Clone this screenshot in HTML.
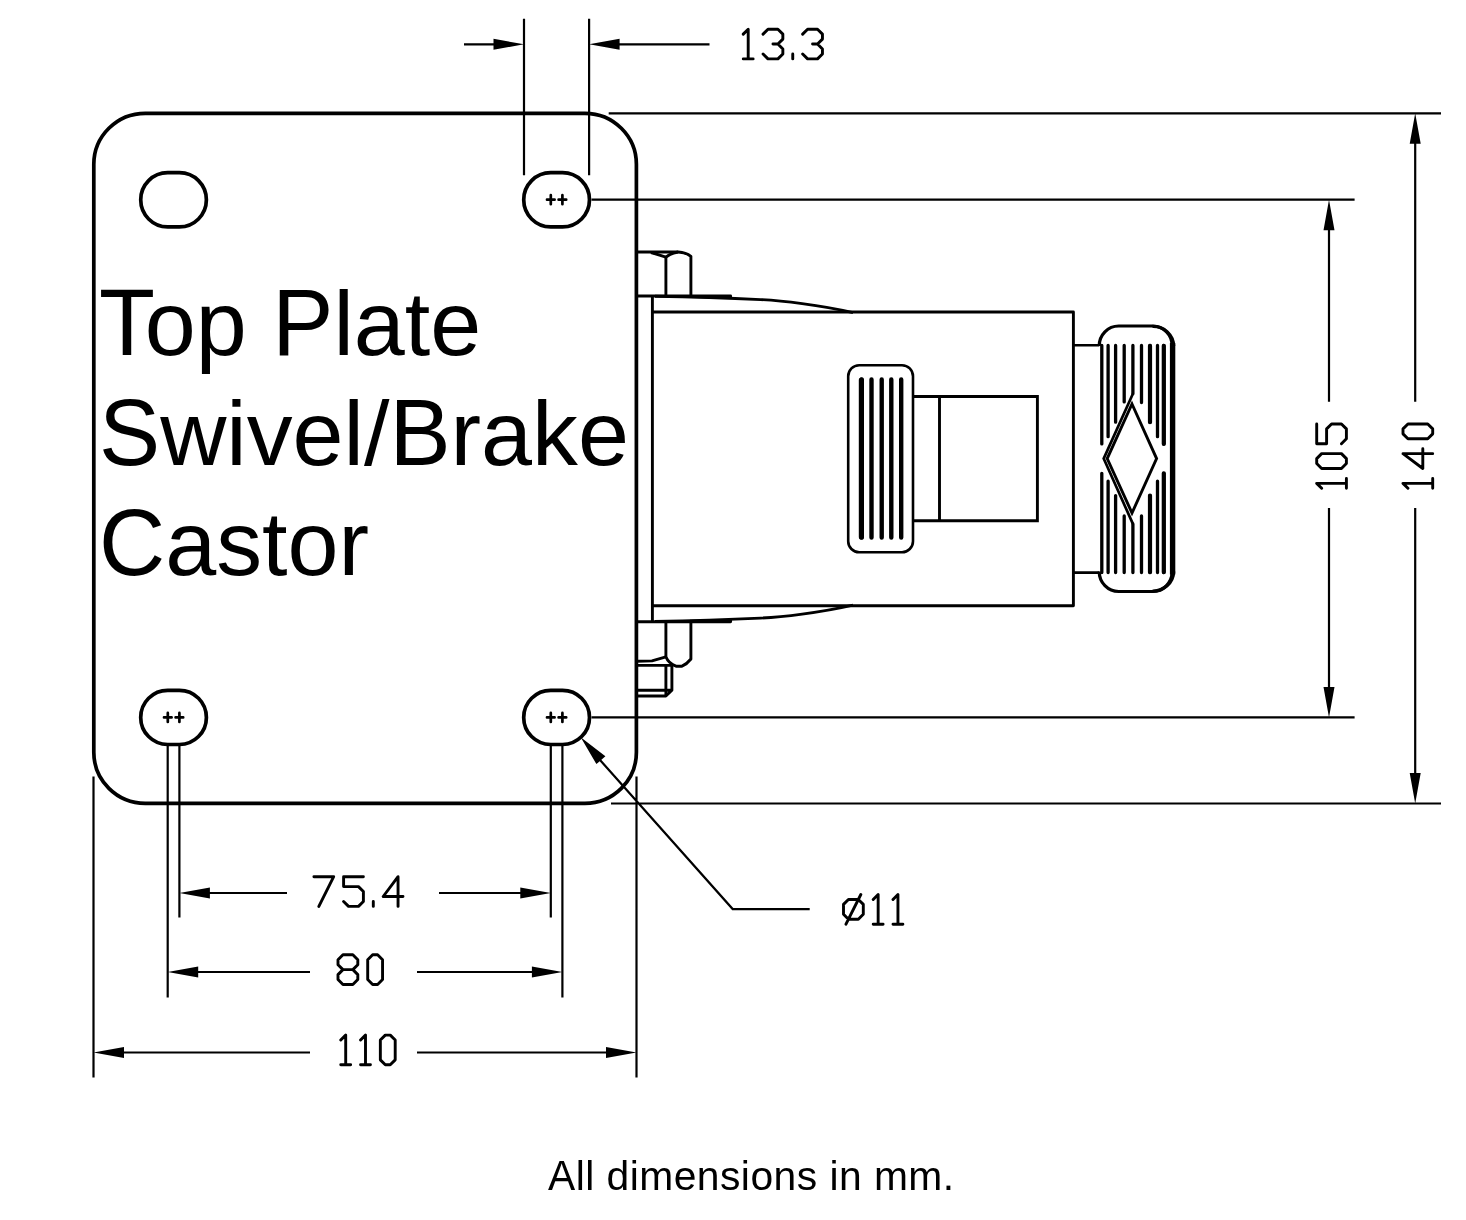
<!DOCTYPE html>
<html><head><meta charset="utf-8"><title>Top Plate Swivel/Brake Castor</title>
<style>
html,body{margin:0;padding:0;background:#fff;}
body{width:1466px;height:1220px;overflow:hidden;position:relative;font-family:"Liberation Sans",sans-serif;}
svg{position:absolute;left:0;top:0;will-change:transform;}
.t{font-family:"Liberation Sans",sans-serif;fill:#000;}
</style></head><body>
<svg width="1466" height="1220" viewBox="0 0 1466 1220">
<rect width="1466" height="1220" fill="#fff"/>
<!-- thin dimension/extension lines -->
<path d="M524,18.7 L524,175.3 M589.1,18.7 L589.1,175.3 M464,44.3 L500,44.3 M615,44.3 L709.5,44.3 M608.7,113.3 L1441,113.3 M591.5,199.7 L1354.6,199.7 M591.5,717.4 L1354.6,717.4 M611,803.5 L1441,803.5 M1329,225 L1329,401.7 M1329,508 L1329,692 M1415.2,138 L1415.2,401.7 M1415.2,508 L1415.2,778 M179.4,746 L179.4,917.5 M550.8,746 L550.8,917.5 M167.7,746 L167.7,997.5 M562.4,746 L562.4,997.5 M93.5,776.5 L93.5,1077.5 M636.5,776.5 L636.5,1077.5 M204,893 L287,893 M439,893 L526,893 M192,972 L310,972 M417,972 L538,972 M118,1052.5 L310,1052.5 M417,1052.5 L612,1052.5 M600,760 L732.7,909.1 L809.7,909.1" fill="none" stroke="#000" stroke-width="2.2"/>
<path d="M524.00,44.30 L493.50,49.80 L493.50,38.80 Z M589.10,44.30 L619.60,38.80 L619.60,49.80 Z M179.40,893.00 L209.90,887.50 L209.90,898.50 Z M550.80,893.00 L520.30,898.50 L520.30,887.50 Z M167.70,972.00 L198.20,966.50 L198.20,977.50 Z M562.40,972.00 L531.90,977.50 L531.90,966.50 Z M93.50,1052.50 L124.00,1047.00 L124.00,1058.00 Z M636.50,1052.50 L606.00,1058.00 L606.00,1047.00 Z M1329.00,199.70 L1334.50,230.20 L1323.50,230.20 Z M1329.00,717.40 L1323.50,686.90 L1334.50,686.90 Z M1415.20,113.30 L1420.70,143.80 L1409.70,143.80 Z M1415.20,803.50 L1409.70,773.00 L1420.70,773.00 Z M580.70,737.30 L605.40,756.17 L596.42,764.12 Z" fill="#000" stroke="none"/>
<!-- plate -->
<rect x="93.8" y="113.3" width="542.6" height="690" rx="51.5" ry="51" fill="none" stroke="#000" stroke-width="3.7"/>
<path d="M167.7,172.70000000000002 L179.4,172.70000000000002 A27.0,27.1 0 0 1 179.4,226.9 L167.7,226.9 A27.0,27.1 0 0 1 167.7,172.70000000000002 Z M550.7,172.70000000000002 L562.5,172.70000000000002 A27.0,27.1 0 0 1 562.5,226.9 L550.7,226.9 A27.0,27.1 0 0 1 550.7,172.70000000000002 Z M167.7,690.3 L179.4,690.3 A27.0,27.1 0 0 1 179.4,744.5 L167.7,744.5 A27.0,27.1 0 0 1 167.7,690.3 Z M550.7,690.3 L562.5,690.3 A27.0,27.1 0 0 1 562.5,744.5 L550.7,744.5 A27.0,27.1 0 0 1 550.7,690.3 Z" fill="none" stroke="#000" stroke-width="3.7"/>
<path d="M547.0,199.7 L554.5999999999999,199.7 M550.8,195.2 L550.8,204.2 M558.6,199.7 L566.1999999999999,199.7 M562.4,195.2 L562.4,204.2 M164.0,717.4 L171.60000000000002,717.4 M167.8,712.9 L167.8,721.9 M175.6,717.4 L183.20000000000002,717.4 M179.4,712.9 L179.4,721.9 M547.0,717.4 L554.5999999999999,717.4 M550.8,712.9 L550.8,721.9 M558.6,717.4 L566.1999999999999,717.4 M562.4,712.9 L562.4,721.9" fill="none" stroke="#000" stroke-width="2.7" stroke-linecap="round"/>
<!-- castor body -->
<g fill="none" stroke="#000" stroke-width="2.9" stroke-linejoin="round">
<path d="M652.4,296 L652.4,621.5"/>
<path d="M652.4,312 L1073.4,312 L1073.4,605.7 L652.4,605.7"/>
<!-- top bolt head -->
<path d="M636.5,252 L678.2,252 Q686,252.5 690.9,256.3 L690.9,296"/>
<path d="M651,252.5 L665.9,257.1 Q671,253 678.2,252"/>
<path d="M665.9,257.1 L665.9,296"/>
<path d="M636.5,296 L730.6,296 L730.6,298.6"/>
<path d="M655,296.3 C700,297 740,298.6 760.6,299.6 S820,305 853,312.6"/>
<!-- bottom nut -->
<path d="M636.5,621.7 L730.6,621.7 L730.6,619.2"/>
<path d="M655,621.4 C700,620.7 740,619.1 760.6,618.1 S820,612.7 853,605.1"/>
<path d="M665.9,621.6 L665.9,656.8 Q668.5,663.5 676,666.2 L682,666.2 Q687,664 690.9,659 L690.9,621.6"/>
<path d="M636.5,661.3 L652,660.9 L665.9,656.8"/>
<path d="M636.5,665.4 L671.9,665.4"/>
<path d="M665.9,665.4 L665.9,696 M671.9,665.4 L671.9,690.2 L665.9,696 L636.5,696 M636.5,690.2 L671.9,690.2"/>
</g>
<path d="M690,296.6 L730.6,297.6 M690,621.1 L730.6,620.2" fill="none" stroke="#000" stroke-width="2.6"/>
<!-- small pedal -->
<rect x="848.2" y="365.2" width="64.8" height="187" rx="11" ry="11" fill="none" stroke="#000" stroke-width="2.6"/>
<path d="M861.6,379.5 L861.6,537.5 M871.5,379.5 L871.5,537.5 M881.7,379.5 L881.7,537.5 M891.3,379.5 L891.3,537.5 M901.2,379.5 L901.2,537.5" fill="none" stroke="#000" stroke-width="4.4" stroke-linecap="round"/>
<path d="M861.4,380 L861.4,537" fill="none" stroke="#000" stroke-width="5.2" stroke-linecap="round"/>
<path d="M913,396.5 L1037.4,396.5 L1037.4,520.8 L913,520.8 M939.5,396.5 L939.5,520.8" fill="none" stroke="#000" stroke-width="2.9"/>
<!-- big pedal -->
<path d="M1073.4,345.2 L1099.3,345.2 M1073.4,572.6 L1099.3,572.6" fill="none" stroke="#000" stroke-width="2.6"/>
<path d="M1099.2,346 A19.5,20 0 0 1 1118.7,326 L1152.5,326 A19.5,19.5 0 0 1 1172,345.5 L1172,572 A19.5,19.5 0 0 1 1152.5,591.5 L1118.7,591.5 A19.5,20 0 0 1 1099.2,571.5" fill="none" stroke="#000" stroke-width="3.2"/>
<path d="M1172.6,343 L1172.6,574.5" fill="none" stroke="#000" stroke-width="5.4"/>
<path d="M1152.5,326.4 A20.5,20 0 0 1 1173.6,346 M1173.6,571.5 A20.5,20 0 0 1 1152.5,591.1" fill="none" stroke="#000" stroke-width="3.4"/>
<path d="M1101.8,345.5 L1101.8,443.9 M1101.8,473.3 L1101.8,572.5 M1108.1,345.5 L1108.1,436.7 M1108.1,481.2 L1108.1,572.5 M1115.6,345.5 L1115.6,422.2 M1115.6,495.6 L1115.6,572.5 M1124.2,345.5 L1124.2,401.9 M1124.2,515.9 L1124.2,572.5 M1132.9,345.5 L1132.9,393.7 M1132.9,523.9 L1132.9,572.5 M1141.5,345.5 L1141.5,402.6 M1141.5,515.9 L1141.5,572.5 M1150.0,345.5 L1150.0,422.2 M1150.0,495.6 L1150.0,572.5 M1157.5,345.5 L1157.5,436.7 M1157.5,481.2 L1157.5,572.5 M1163.8,345.5 L1163.8,443.9 M1163.8,473.3 L1163.8,572.5" fill="none" stroke="#000" stroke-width="3.3" stroke-linecap="round"/>
<path d="M1150.0,345.8 L1150.0,422.2 M1150.0,495.6 L1150.0,572.2 M1163.8,345.8 L1163.8,443.9 M1163.8,473.3 L1163.8,572.2" fill="none" stroke="#000" stroke-width="4.2" stroke-linecap="round"/>
<path d="M1132,404 L1156.6,458.6 L1132,513 L1107.2,458.6 Z" fill="none" stroke="#000" stroke-width="2.9" stroke-linejoin="miter"/>
<path d="M1132.9,393.7 L1103.7,458.6 L1132.9,523.9" fill="none" stroke="#000" stroke-width="2.7" stroke-linejoin="miter"/>
<!-- CAD stroke text -->
<path d="M743.25,34.15 L748.20,29.20 L748.20,58.90 M743.25,58.90 L753.15,58.90 M763.05,34.15 L768.00,29.20 L777.90,29.20 L782.85,34.15 L782.85,39.10 L777.90,44.05 L772.95,44.05 M777.90,44.05 L782.85,49.00 L782.85,53.95 L777.90,58.90 L768.00,58.90 L763.05,53.95 M792.75,58.90 L792.75,53.95 M802.65,34.15 L807.60,29.20 L817.50,29.20 L822.45,34.15 L822.45,39.10 L817.50,44.05 L812.55,44.05 M817.50,44.05 L822.45,49.00 L822.45,53.95 L817.50,58.90 L807.60,58.90 L802.65,53.95 M313.90,876.70 L333.70,876.70 L318.85,906.40 M363.40,876.70 L343.60,876.70 L343.60,886.60 L358.45,886.60 L363.40,891.55 L363.40,901.45 L358.45,906.40 L348.55,906.40 L343.60,901.45 M373.30,906.40 L373.30,901.45 M398.05,906.40 L398.05,876.70 L383.20,896.50 L403.00,896.50 M342.95,984.50 L338.00,979.55 L338.00,974.60 L342.95,969.65 L338.00,964.70 L338.00,959.75 L342.95,954.80 L352.85,954.80 L357.80,959.75 L357.80,964.70 L352.85,969.65 L357.80,974.60 L357.80,979.55 L352.85,984.50 Z M342.95,969.65 L352.85,969.65 M372.65,984.50 L367.70,979.55 L367.70,959.75 L372.65,954.80 L377.60,954.80 L382.55,959.75 L382.55,979.55 L377.60,984.50 Z M340.75,1040.05 L345.70,1035.10 L345.70,1064.80 M340.75,1064.80 L350.65,1064.80 M360.55,1040.05 L365.50,1035.10 L365.50,1064.80 M360.55,1064.80 L370.45,1064.80 M385.30,1064.80 L380.35,1059.85 L380.35,1040.05 L385.30,1035.10 L390.25,1035.10 L395.20,1040.05 L395.20,1059.85 L390.25,1064.80 Z M843.50,914.30 L843.50,904.40 L848.45,899.45 L858.35,899.45 L863.30,904.40 L863.30,914.30 L858.35,919.25 L848.45,919.25 Z M845.98,924.20 L860.83,894.50 M873.20,899.45 L878.15,894.50 L878.15,924.20 M873.20,924.20 L883.10,924.20 M893.00,899.45 L897.95,894.50 L897.95,924.20 M893.00,924.20 L902.90,924.20 M1321.65,488.30 L1316.70,483.35 L1346.40,483.35 M1346.40,488.30 L1346.40,478.40 M1346.40,463.55 L1341.45,468.50 L1321.65,468.50 L1316.70,463.55 L1316.70,458.60 L1321.65,453.65 L1341.45,453.65 L1346.40,458.60 Z M1316.70,423.95 L1316.70,443.75 L1326.60,443.75 L1326.60,428.90 L1331.55,423.95 L1341.45,423.95 L1346.40,428.90 L1346.40,438.80 L1341.45,443.75 M1407.95,488.30 L1403.00,483.35 L1432.70,483.35 M1432.70,488.30 L1432.70,478.40 M1432.70,453.65 L1403.00,453.65 L1422.80,468.50 L1422.80,448.70 M1432.70,433.85 L1427.75,438.80 L1407.95,438.80 L1403.00,433.85 L1403.00,428.90 L1407.95,423.95 L1427.75,423.95 L1432.70,428.90 Z" fill="none" stroke="#000" stroke-width="2.9" stroke-linecap="round" stroke-linejoin="round"/>
<!-- labels -->
<text class="t" font-size="91.7" transform="translate(99.00,355) scale(1,1.0405)">T</text>
<text class="t" font-size="91.7" x="144.83" y="355" xml:space="preserve">op </text>
<text class="t" font-size="91.7" transform="translate(272.30,355) scale(1,1.0405)">P</text>
<text class="t" font-size="91.7" x="333.45" y="355" xml:space="preserve">late</text>
<text class="t" font-size="91.7" transform="translate(99.00,465.2) scale(1,1.0405)">S</text>
<text class="t" font-size="91.7" x="160.14" y="465.2" xml:space="preserve">wivel/</text>
<text class="t" font-size="91.7" transform="translate(389.41,465.2) scale(1,1.0405)">B</text>
<text class="t" font-size="91.7" x="450.56" y="465.2" xml:space="preserve">rake</text>
<text class="t" font-size="91.7" transform="translate(99.00,575.4) scale(1,1.0405)">C</text>
<text class="t" font-size="91.7" x="165.20" y="575.4" xml:space="preserve">astor</text>
<text class="t" font-size="40.8" transform="translate(548.00,1189.5) scale(1,1.0405)">A</text>
<text class="t" font-size="40.8" letter-spacing="0.47" x="575.67" y="1189.5" xml:space="preserve">ll dimensions in mm.</text>
</svg>
</body></html>
